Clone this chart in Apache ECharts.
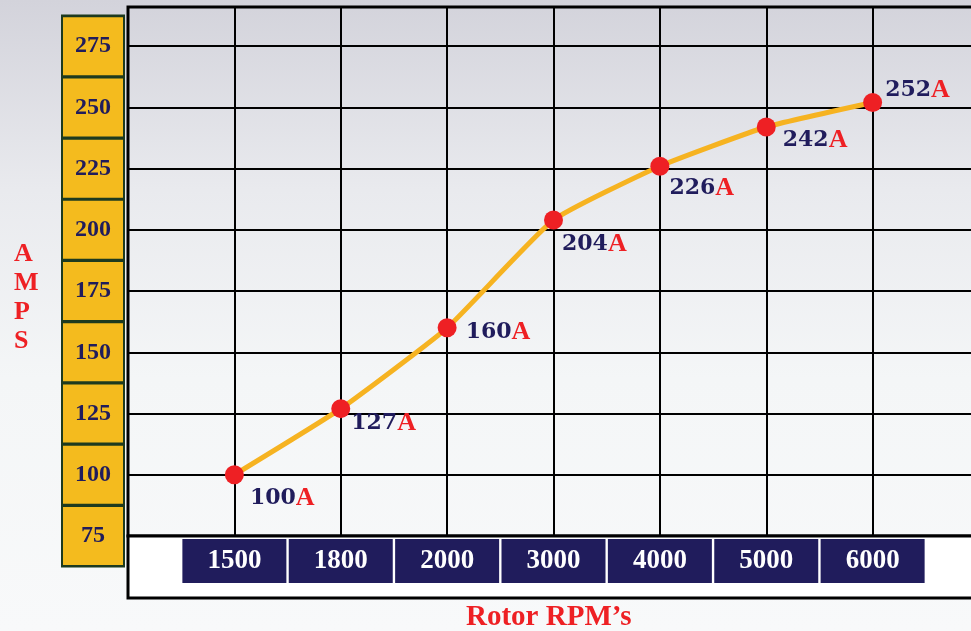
<!DOCTYPE html>
<html>
<head>
<meta charset="utf-8">
<script src="https://cdn.jsdelivr.net/npm/echarts@6/dist/echarts.min.js"></script>
<style>
  html, body { margin: 0; padding: 0; overflow: hidden; }
  body { background: linear-gradient(180deg, #d3d3db 0%, #e9eaee 30%, #f4f6f7 60%, #f8f9fa 100%); }
  #chart { width: 982px; height: 631px; }
</style>
</head>
<body>
<div id="chart"></div>
<script>
// rotor speed categories and measured current
const rpm = ['1500', '1800', '2000', '3000', '4000', '5000', '6000'];
const amps = [100, 127, 160, 204, 226, 242, 252];
const yTicks = [75, 100, 125, 150, 175, 200, 225, 250, 275];

// label offsets from each marker (style only)
const labelPos = [[25, 20], [20, 11], [28, 1], [18, 21], [19, 19], [26, 10], [22, -16]];

const navy = '#201c5c';
const red = '#ee2024';
const cellGreen = '#1d3a1f';
const serif = 'Liberation Serif';

const chart = echarts.init(document.getElementById('chart'));

chart.setOption({
    backgroundColor: 'transparent',
    animation: false,
    grid: [
        { left: 128, top: 7, right: 3, bottom: 95, show: true, borderColor: '#000', borderWidth: 3, backgroundColor: 'transparent' },
        { left: 128, top: 536, right: 3, height: 62, show: true, borderColor: '#000', borderWidth: 3, backgroundColor: '#fff' }
    ],
    xAxis: {
        type: 'value', gridIndex: 0,
        min: -1, max: 7, interval: 1,
        axisLine: { show: false }, axisTick: { show: false },
        splitLine: { lineStyle: { color: '#000', width: 2 } },
        axisLabel: {
            margin: 3,
            formatter: v => (v >= 0 && v < rpm.length) ? '{b|' + rpm[v] + '}' : '',
            rich: {
                b: {
                    backgroundColor: navy, color: '#fff',
                    width: 104, height: 44, lineHeight: 44, align: 'center',
                    fontFamily: serif, fontWeight: 'bold', fontSize: 27
                }
            }
        }
    },
    yAxis: {
        type: 'value', gridIndex: 0,
        min: 75, max: 291, interval: 25,
        axisLine: { show: false }, axisTick: { show: false },
        splitLine: { lineStyle: { color: '#000', width: 2 } },
        axisLabel: {
            margin: 5,
            showMinLabel: true,
            formatter: v => yTicks.includes(v) ? '{c|' + v + '}' : '',
            rich: {
                c: {
                    backgroundColor: '#f4bb1e',
                    width: 60, height: 58, lineHeight: 58, align: 'center',
                    color: navy, fontFamily: serif, fontWeight: 'bold', fontSize: 24
                }
            }
        }
    },
    series: [{
        type: 'line',
        data: amps.map((v, i) => ({
            value: [i, v],
            label: { position: labelPos[i] }
        })),
        smooth: 0.15,
        lineStyle: { color: '#f6b321', width: 5 },
        symbol: 'circle', symbolSize: 19,
        itemStyle: { color: red },
        z: 5,
        label: {
            show: true,
            formatter: p => '{n|' + p.value[1] + '}{a|A}',
            rich: {
                n: { color: navy, fontFamily: 'DejaVu Serif', fontWeight: 'bold', fontSize: 22 },
                a: { color: red, fontFamily: serif, fontWeight: 'bold', fontSize: 26 }
            }
        }
    }]
});

// dark column behind the yellow tick cells, sized from the y scale
const yTop = chart.convertToPixel({ yAxisIndex: 0 }, yTicks[yTicks.length - 1]);
const yBot = chart.convertToPixel({ yAxisIndex: 0 }, yTicks[0]);
const half = (yBot - yTop) / (yTicks.length - 1) / 2;

chart.setOption({
    graphic: [
        { type: 'rect', z: -1, shape: { x: 61, y: yTop - half - 1, width: 64, height: yBot - yTop + 2 * half + 2 }, style: { fill: cellGreen } },
        { type: 'text', left: 14, top: 240, style: { text: 'A\nM\nP\nS', fill: red, font: 'bold 26px "Liberation Serif"', lineHeight: 29, align: 'center' } },
        { type: 'text', left: 466, top: 603, style: { text: 'Rotor RPM\u2019s', fill: red, font: 'bold 29px "Liberation Serif"' } }
    ]
});
</script>
</body>
</html>
